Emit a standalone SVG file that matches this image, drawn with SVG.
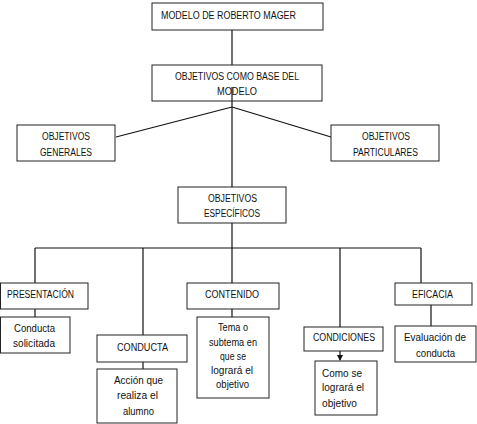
<svg xmlns="http://www.w3.org/2000/svg" width="477" height="424" viewBox="0 0 477 424">
<style>
rect{fill:#fff;stroke:#222;stroke-width:1}
text{font-family:"Liberation Sans",Arial,sans-serif;font-size:10px;fill:#111;text-anchor:middle}
.l{text-anchor:start}
#edges line,#edges path{stroke:#111;stroke-width:1.2;fill:none}
</style>
<defs>
<marker id="ah" markerWidth="6" markerHeight="6" refX="5" refY="3" orient="auto" markerUnits="userSpaceOnUse">
<path d="M0,0 L6,3 L0,6 Z" fill="#111"/>
</marker>
</defs>
<g id="edges">
<line x1="232" y1="30" x2="232" y2="65"/>
<line x1="232" y1="87" x2="232" y2="187"/>
<line x1="232" y1="107" x2="116" y2="137"/>
<line x1="232" y1="107" x2="331" y2="137"/>
<line x1="232" y1="223" x2="232" y2="283"/>
<line x1="35" y1="248" x2="421" y2="248"/>
<line x1="35" y1="248" x2="35" y2="283"/>
<line x1="143" y1="248" x2="143" y2="335"/>
<line x1="340" y1="248" x2="340" y2="327"/>
<line x1="421" y1="248" x2="421" y2="283"/>
<line x1="35" y1="309" x2="35" y2="317"/>
<line x1="232" y1="309" x2="232" y2="317"/>
<line x1="431" y1="305" x2="431" y2="326"/>
<line x1="143" y1="352" x2="143" y2="369"/>
<line x1="340" y1="351" x2="340" y2="360" marker-end="url(#ah)"/>
</g>
<g id="n1"><rect x="152" y="3" width="171" height="27"/><text class="l" x="161" y="18.5" textLength="135" lengthAdjust="spacingAndGlyphs">MODELO DE ROBERTO MAGER</text></g>
<g id="n2"><rect x="152" y="65" width="170" height="36"/><text x="237" y="79.5" textLength="124" lengthAdjust="spacingAndGlyphs">OBJETIVOS COMO BASE DEL</text><text x="237" y="94.5" textLength="40" lengthAdjust="spacingAndGlyphs">MODELO</text></g>
<line x1="232" y1="87" x2="232" y2="101" stroke="#111" stroke-width="1.2"/>
<g id="n3"><rect x="17" y="125" width="98" height="36"/><text x="66" y="139.5" textLength="48" lengthAdjust="spacingAndGlyphs">OBJETIVOS</text><text x="66" y="155.5" textLength="52" lengthAdjust="spacingAndGlyphs">GENERALES</text></g>
<g id="n4"><rect x="331" y="125" width="108" height="36"/><text x="386" y="139.5" textLength="48" lengthAdjust="spacingAndGlyphs">OBJETIVOS</text><text x="385.5" y="155.5" textLength="65" lengthAdjust="spacingAndGlyphs">PARTICULARES</text></g>
<g id="n5"><rect x="178" y="187" width="108" height="36"/><text x="232.5" y="201.5" textLength="49" lengthAdjust="spacingAndGlyphs">OBJETIVOS</text><text x="232" y="216.5" textLength="56" lengthAdjust="spacingAndGlyphs">ESPECÍFICOS</text></g>
<g id="n6"><rect x="0.5" y="283" width="87.5" height="26"/><text x="40.5" y="297.5" textLength="67" lengthAdjust="spacingAndGlyphs">PRESENTACIÓN</text></g>
<g id="n7"><rect x="0.5" y="317" width="69.5" height="36"/><text x="34.5" y="331.5" textLength="41" lengthAdjust="spacingAndGlyphs">Conducta</text><text x="34" y="346.5" textLength="42" lengthAdjust="spacingAndGlyphs">solicitada</text></g>
<g id="n8"><rect x="97" y="335" width="90" height="27"/><text x="142.5" y="350.5" textLength="51" lengthAdjust="spacingAndGlyphs">CONDUCTA</text></g>
<g id="n9"><rect x="97" y="369" width="80" height="54"/><text x="138.5" y="383.5" textLength="49" lengthAdjust="spacingAndGlyphs">Acción que</text><text x="137.5" y="398.5" textLength="41" lengthAdjust="spacingAndGlyphs">realiza el</text><text x="138.5" y="414.5" textLength="31" lengthAdjust="spacingAndGlyphs">alumno</text></g>
<g id="n10"><rect x="187" y="283" width="92" height="26"/><text x="232" y="297.5" textLength="54" lengthAdjust="spacingAndGlyphs">CONTENIDO</text></g>
<g id="n11"><rect x="197" y="317" width="72" height="81"/><text x="233" y="331" textLength="30" lengthAdjust="spacingAndGlyphs">Tema o</text><text x="233" y="346" textLength="48" lengthAdjust="spacingAndGlyphs">subtema en</text><text x="233" y="360" textLength="26" lengthAdjust="spacingAndGlyphs">que se</text><text x="232" y="374" textLength="42" lengthAdjust="spacingAndGlyphs">logrará el</text><text x="232.5" y="388" textLength="33" lengthAdjust="spacingAndGlyphs">objetivo</text></g>
<g id="n12"><rect x="304" y="327" width="79" height="24"/><text x="344" y="340.5" textLength="62" lengthAdjust="spacingAndGlyphs">CONDICIONES</text></g>
<g id="n13"><rect x="315" y="361" width="62" height="54"/><text class="l" x="322" y="376.5" textLength="40" lengthAdjust="spacingAndGlyphs">Como se</text><text class="l" x="322" y="390.5" textLength="42" lengthAdjust="spacingAndGlyphs">logrará el</text><text class="l" x="322" y="406.5" textLength="35" lengthAdjust="spacingAndGlyphs">objetivo</text></g>
<g id="n14"><rect x="395" y="283" width="77" height="22"/><text x="432.5" y="297.5" textLength="41" lengthAdjust="spacingAndGlyphs">EFICACIA</text></g>
<g id="n15"><rect x="395" y="326" width="81" height="36"/><text x="435" y="340.5" textLength="62" lengthAdjust="spacingAndGlyphs">Evaluación de</text><text x="435.5" y="356.5" textLength="39" lengthAdjust="spacingAndGlyphs">conducta</text></g>
</svg>
